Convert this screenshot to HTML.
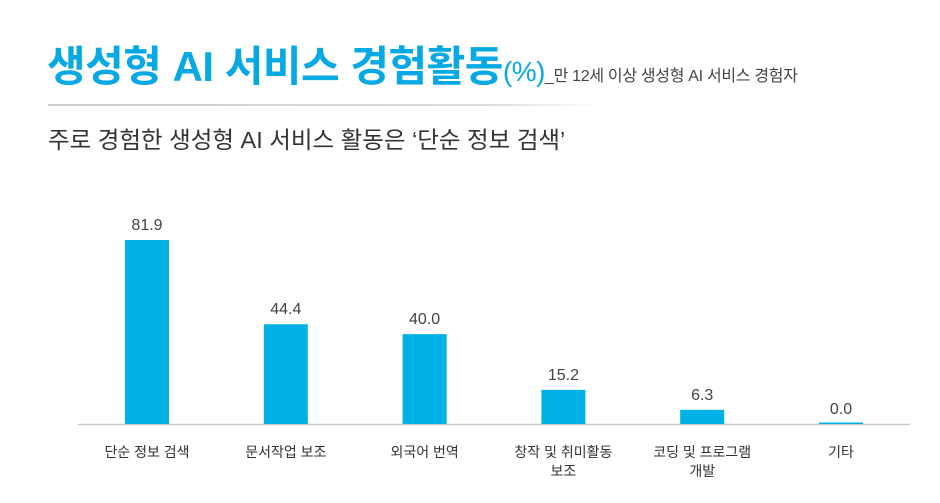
<!DOCTYPE html>
<html><head><meta charset="utf-8"><style>
body{margin:0;width:940px;height:503px;background:#fff;overflow:hidden;font-family:"Liberation Sans","Noto Sans CJK KR",sans-serif;position:relative}
.t{position:absolute;white-space:nowrap}
</style></head><body>
<div class="t" style="left:47px;top:33px;font-size:42px;font-weight:bold;color:#06a9e4;letter-spacing:-0.5px">생성형 AI 서비스 경험활동<span style="font-size:28px;font-weight:normal">(%)</span><span style="font-size:16px;font-weight:normal;color:#444;letter-spacing:-0.3px">_만 12세 이상 생성형 AI 서비스 경험자</span></div>
<div style="position:absolute;left:48px;top:104px;width:555px;height:2px;background:linear-gradient(90deg,#ccc,#ddd 80%,#fff)"></div>
<div class="t" style="left:48px;top:121px;font-size:23.5px;color:#333">주로 경험한 생성형 AI 서비스 활동은 ‘단순 정보 검색’</div>
<svg id="c" width="940" height="503" style="position:absolute;left:0;top:0"></svg>
<script>
const categories=[["단순 정보 검색"],["문서작업 보조"],["외국어 번역"],["창작 및 취미활동","보조"],["코딩 및 프로그램","개발"],["기타"]];
const values=[81.9,44.4,40.0,15.2,6.3,0.0];
const labels=["81.9","44.4","40.0","15.2","6.3","0.0"];
const svg=document.getElementById('c');const NS="http://www.w3.org/2000/svg";
const base=424,scale=2.247,x0=147,step=138.8,bw=44;
const y=v=>base-v*scale;const x=i=>x0+i*step;
function mk(t,a){const e=document.createElementNS(NS,t);for(const k in a)e.setAttribute(k,a[k]);svg.appendChild(e);return e;}
const ax=mk('line',{x1:78,x2:910,y1:base+0.5,y2:base+0.5,stroke:'#c8c8c8','stroke-width':1.5});


values.forEach((v,i)=>{
 const r=mk('rect',{x:x(i)-bw/2,y:y(v)-(v==0?1.5:0),width:bw,height:Math.max(base-y(v),1.5),fill:'#00b1e8'});
 
 
 const t=mk('text',{x:x(i),y:y(v)-10,'text-anchor':'middle','font-size':16,fill:'#444'});
 t.textContent=labels[i];
 
 
 categories[i].forEach((l,j)=>{
  const c=mk('text',{x:x(i),y:457+j*19,'text-anchor':'middle','font-size':14,fill:'#333'});
  c.textContent=l;
  
  
 });
});
</script>
</body></html>
